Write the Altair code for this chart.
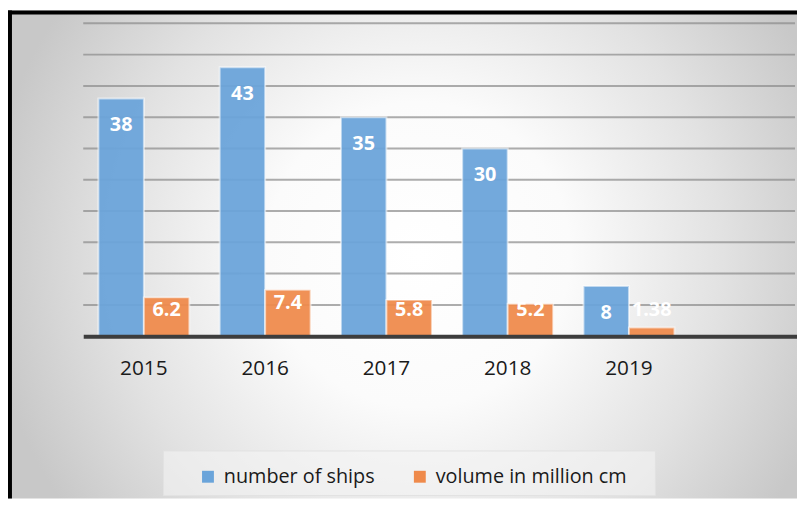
import altair as alt
import pandas as pd

# ---- data ----
years = ["2015", "2016", "2017", "2018", "2019"]
ships = [38, 43, 35, 30, 8]
volume = [6.2, 7.4, 5.8, 5.2, 1.38]
volume_text = ["6.2", "7.4", "5.8", "5.2", "1.38"]
series = ["number of ships", "volume in million cm"]
x_domain = years + [""]          # Excel leaves an empty slot at the right
y_ticks = [5, 10, 15, 20, 25, 30, 35, 40, 45, 50]

rows = []
for i, yr in enumerate(years):
    rows.append({"year": yr, "series": series[0], "value": ships[i], "label": str(ships[i])})
    rows.append({"year": yr, "series": series[1], "value": volume[i], "label": volume_text[i]})
df = pd.DataFrame(rows)
grid_df = pd.DataFrame({"tick": y_ticks})

BLUE = "#6aa4da"
ORANGE = "#ef8a4b"
FONT = "Open Sans"

W, H = 719, 316
PAD = {"left": 76, "top": 13, "right": 2, "bottom": 164}

x_enc = alt.X(
    "year:N",
    sort=x_domain,
    scale=alt.Scale(domain=x_domain, range=[0, 735], paddingInner=0.25, paddingOuter=0.125),
    axis=alt.Axis(title=None, labelFont=FONT, labelFontSize=21, labelColor="#1a1a1a",
                  labelAngle=0, ticks=False, domainColor="#3d3d3d", domainWidth=4,
                  labelPadding=22, grid=False, zindex=2),
)
xoff_enc = alt.XOffset("series:N", scale=alt.Scale(domain=series, paddingInner=0, paddingOuter=0))
y_scale = alt.Scale(domain=[0, 50], nice=False, zero=True)

dummy = pd.DataFrame({"k": [0]})

background = alt.Chart(dummy).mark_rect(
    color={
        "gradient": "radial",
        "x1": 0.52, "y1": 0.5, "r1": 0,
        "x2": 0.52, "y2": 0.5, "r2": 0.55,
        "stops": [
            {"offset": 0, "color": "#ffffff"},
            {"offset": 0.35, "color": "#fbfbfb"},
            {"offset": 0.7, "color": "#e2e2e2"},
            {"offset": 1, "color": "#c8c8c8"},
        ],
    }
).encode(x=alt.value(-76), x2=alt.value(721), y=alt.value(-13), y2=alt.value(480))

border_top = alt.Chart(dummy).mark_rect(color="#000000").encode(
    x=alt.value(-76), x2=alt.value(721), y=alt.value(-13), y2=alt.value(-9))
border_left = alt.Chart(dummy).mark_rect(color="#000000").encode(
    x=alt.value(-76), x2=alt.value(-72), y=alt.value(-13), y2=alt.value(480))

legend_box = alt.Chart(dummy).mark_rect(
    fill="#f4f4f4", fillOpacity=0.6, stroke="#e2e2e2", strokeWidth=1
).encode(x=alt.value(81), x2=alt.value(578), y=alt.value(432), y2=alt.value(477))

gridlines = alt.Chart(grid_df).mark_rule(color="#8a8a8a", opacity=0.7, strokeWidth=2).encode(
    y=alt.Y("tick:Q", scale=y_scale, axis=None),
    x=alt.value(0), x2=alt.value(W),
)

bars = alt.Chart(df).mark_bar(
    stroke="#ffffff", strokeOpacity=0.55, strokeWidth=2, fillOpacity=0.94
).encode(
    x=x_enc,
    xOffset=xoff_enc,
    y=alt.Y("value:Q", scale=y_scale, axis=None),
    color=alt.Color(
        "series:N",
        scale=alt.Scale(domain=series, range=[BLUE, ORANGE]),
        legend=alt.Legend(title=None, orient="none", legendX=116, legendY=448,
                          direction="horizontal", symbolType="square", symbolSize=144,
                          symbolStrokeWidth=0, labelFont=FONT, labelFontSize=20,
                          labelColor="#1a1a1a", columnPadding=35, labelOffset=6, padding=0,
                          labelLimit=400),
    ),
)

label_base = alt.Chart(df).transform_calculate(
    labelPos="datum.series == 'number of ships' ? datum.value : max(datum.value, 6.2)"
)
ship_labels = label_base.transform_filter(alt.datum.series == series[0]).mark_text(
    font=FONT, fontSize=20, fontWeight="bold", color="#ffffff", baseline="middle", dy=27
).encode(x=x_enc, xOffset=xoff_enc,
         y=alt.Y("labelPos:Q", scale=y_scale, axis=None), text="label:N")
vol_labels = label_base.transform_filter(alt.datum.series == series[1]).mark_text(
    font=FONT, fontSize=20, fontWeight="bold", color="#ffffff", baseline="middle", dy=13
).encode(x=x_enc, xOffset=xoff_enc,
         y=alt.Y("labelPos:Q", scale=y_scale, axis=None), text="label:N")

chart = alt.layer(
    background, border_top, border_left, legend_box, gridlines, bars, ship_labels, vol_labels
).properties(
    width=W, height=H, padding=PAD, autosize=alt.AutoSizeParams(type="none")
).configure_view(stroke=None)

chart.save("out.html", embed_options={"renderer": "svg", "actions": False})
